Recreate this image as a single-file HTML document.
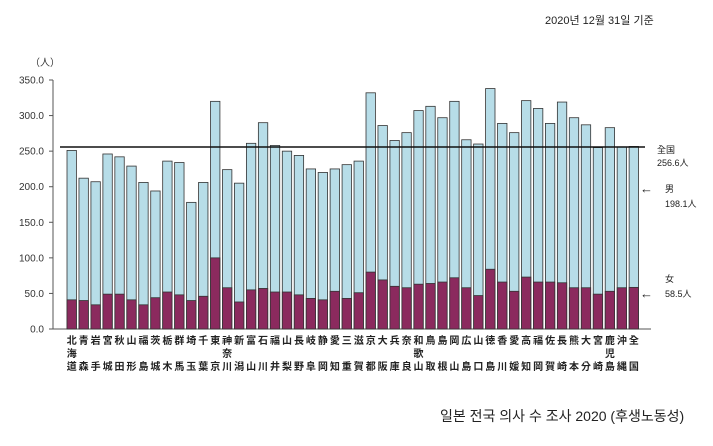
<!DOCTYPE html><html><head><meta charset="utf-8"><style>body{margin:0;background:#fff}svg{display:block}text{font-family:"Liberation Sans","Noto Sans CJK KR","Noto Sans CJK JP",sans-serif}</style></head><body>
<svg width="713" height="446" xmlns="http://www.w3.org/2000/svg" id="s">
<text x="545" y="24" font-size="11" fill="#222">2020년 12월 31일 기준</text>
<text x="30" y="66" font-size="10" fill="#333">（人）</text>
<g font-size="10" fill="#333" text-anchor="end" id="yl"></g>
<line x1="53" y1="80" x2="53" y2="329" stroke="#555"/>
<line x1="53" y1="329" x2="651" y2="329" stroke="#555"/>
<g id="bars"></g>
<line x1="60" y1="147" x2="645" y2="147" stroke="#111" stroke-width="1.6"/>
<g font-size="10" fill="#222" font-weight="bold" id="xl"></g>
<g font-size="9" fill="#222">
<text x="657" y="153">全国</text><text x="657" y="166">256.6人</text>
<text x="640" y="193" font-size="13">←</text><text x="665" y="192">男</text><text x="665" y="207">198.1人</text>
<text x="665" y="282">女</text><text x="640" y="298" font-size="13">←</text><text x="665" y="297">58.5人</text>
</g>
<text x="440" y="421" font-size="14" fill="#222">일본 전국 의사 수 조사 2020 (후생노동성)</text>
</svg>
<script>
var t=[251,212,207,246,242,229,206,194,236,234,178,206,320,224,205,261,290,258,250,244,225,220,225,231,236,332,286,265,276,307,313,297,320,266,260,338,289,276,321,310,289,319,297,287,255,283,256,256.6];
var f=[41,40,34,49,49,41,34,44,52,48,40,46,100,58,38,55,57,52,52,48,43,41,53,43,51,80,69,60,58,63,64,66,72,58,47,84,66,53,73,66,66,65,58,58,49,53,58,58.5];
var r1="北青岩宮秋山福茨栃群埼千東神新富石福山長岐静愛三滋京大兵奈和鳥島岡広山徳香愛高福佐長熊大宮鹿沖全";
var r3="道森手城田形島城木馬玉葉京川潟山川井梨野阜岡知重賀都阪庫良山取根山島口島川媛知岡賀崎本分崎島縄国";
var ns="http://www.w3.org/2000/svg",b=document.getElementById("bars"),x=document.getElementById("xl"),yl=document.getElementById("yl");
function el(p,n,a,tx){var e=document.createElementNS(ns,n);for(var k in a)e.setAttribute(k,a[k]);if(tx)e.textContent=tx;p.appendChild(e);}
var k=249/350;
for(var v=0;v<=350;v+=50){var y=329-v*k;el(yl,"text",{x:44,y:y+3.5},v.toFixed(1));el(yl,"line",{x1:49,y1:y,x2:53,y2:y,stroke:"#555"});}
for(var i=0;i<48;i++){var x0=67+i*11.96;
el(b,"rect",{x:x0,y:329-t[i]*k,width:9.4,height:t[i]*k,fill:"#b7dde8",stroke:"#333","stroke-width":0.8});
el(b,"rect",{x:x0,y:329-f[i]*k,width:9.4,height:f[i]*k,fill:"#8b2a5e",stroke:"#333","stroke-width":0.8});
var cx=x0+4.7;el(x,"text",{x:cx,y:344,"text-anchor":"middle"},r1[i]);el(x,"text",{x:cx,y:370,"text-anchor":"middle"},r3[i]);}
el(x,"text",{x:67+4.7,y:357,"text-anchor":"middle"},"海");
el(x,"text",{x:67+13*11.96+4.7,y:357,"text-anchor":"middle"},"奈");
el(x,"text",{x:67+29*11.96+4.7,y:357,"text-anchor":"middle"},"歌");
el(x,"text",{x:67+45*11.96+4.7,y:357,"text-anchor":"middle"},"児");
</script></body></html>
